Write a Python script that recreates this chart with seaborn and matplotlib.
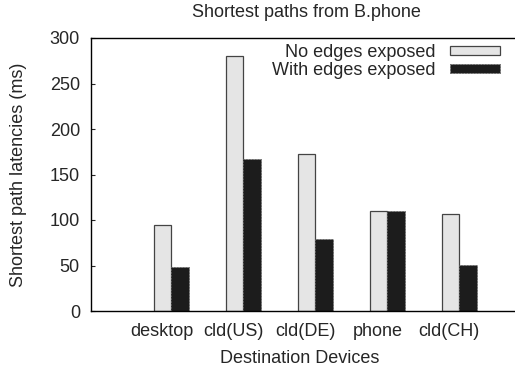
import matplotlib
matplotlib.use("Agg")
import matplotlib.pyplot as plt
import matplotlib.patches as mpatches
import seaborn as sns
import pandas as pd

devices = ["desktop", "cld(US)", "cld(DE)", "phone", "cld(CH)"]
series_names = ["No edges exposed", "With edges exposed"]
no_edges = [94, 280, 173, 110, 107]
with_edges = [48, 167, 79, 110, 51]
yticks = [0, 50, 100, 150, 200, 250, 300]

df = pd.DataFrame({
    "device": devices * 2,
    "latency": no_edges + with_edges,
    "series": [series_names[0]] * len(devices) + [series_names[1]] * len(devices),
})

sns.set_style("white")
plt.rcParams["font.family"] = ["Liberation Sans", "DejaVu Sans"]
plt.rcParams["font.size"] = 13

W, H = 515, 368
fig = plt.figure(figsize=(W / 100, H / 100), dpi=100)
ax_left, ax_right, ax_top, ax_bottom = 91, 517, 38, 311
ax = fig.add_axes([ax_left / W, 1 - ax_bottom / H, (ax_right - ax_left) / W, (ax_bottom - ax_top) / H])

colors = ["#e5e5e5", "#1c1c1c"]
sns.barplot(data=df, x="device", y="latency", hue="series", order=devices,
            hue_order=series_names, palette=colors, width=0.486, dodge=True,
            errorbar=None, legend=False, ax=ax, saturation=1)

for p in ax.containers[0]:
    p.set_edgecolor("#444444")
    p.set_linewidth(0.9)
for p in ax.containers[1]:
    p.set_edgecolor("#666666")
    p.set_linewidth(0.6)
    p.set_linestyle((0, (2, 1.5)))

ax.set_xlim(-1.118, 4.80)
ax.set_ylim(0, 300)
ax.set_yticks(yticks)
ax.set_xticks([i - 0.14 for i in range(len(devices))], labels=devices)
ax.tick_params(axis="x", length=0, pad=9, labelsize=13)
ax.tick_params(axis="y", direction="in", length=3, width=0.8, pad=8, labelsize=13, left=True)

for s in ax.spines.values():
    s.set_color("black")
    s.set_linewidth(1.0)
    s.set_visible(True)

ax.set_xlabel("Destination Devices", fontsize=13)
ax.set_ylabel("Shortest path latencies (ms)", fontsize=13)
axw = ax_right - ax_left
axh = ax_bottom - ax_top
ax.xaxis.set_label_coords((300 - ax_left) / axw, (ax_bottom - 350) / axh)
ax.yaxis.set_label_coords((27 - ax_left) / axw, 0.5)
ax.set_title("Shortest paths from B.phone", fontsize=13, pad=0,
             x=(306 - ax_left) / axw, y=(ax_bottom - 17) / axh, va="baseline")

handles = [
    mpatches.Patch(facecolor=colors[0], edgecolor="#444444", linewidth=0.9, label=series_names[0]),
    mpatches.Patch(facecolor=colors[1], edgecolor="#666666", linewidth=0.6,
                   linestyle=(0, (2, 1.5)), label=series_names[1]),
]
ax.legend(handles=handles, loc="upper right", bbox_to_anchor=(500 / W, 1 - 44 / H),
          bbox_transform=fig.transFigure, frameon=False, markerfirst=False,
          borderpad=0, borderaxespad=0, handlelength=2.78, handleheight=0.4,
          handletextpad=0.78, labelspacing=0.05, fontsize=13)

fig.savefig("out.png", dpi=100)
